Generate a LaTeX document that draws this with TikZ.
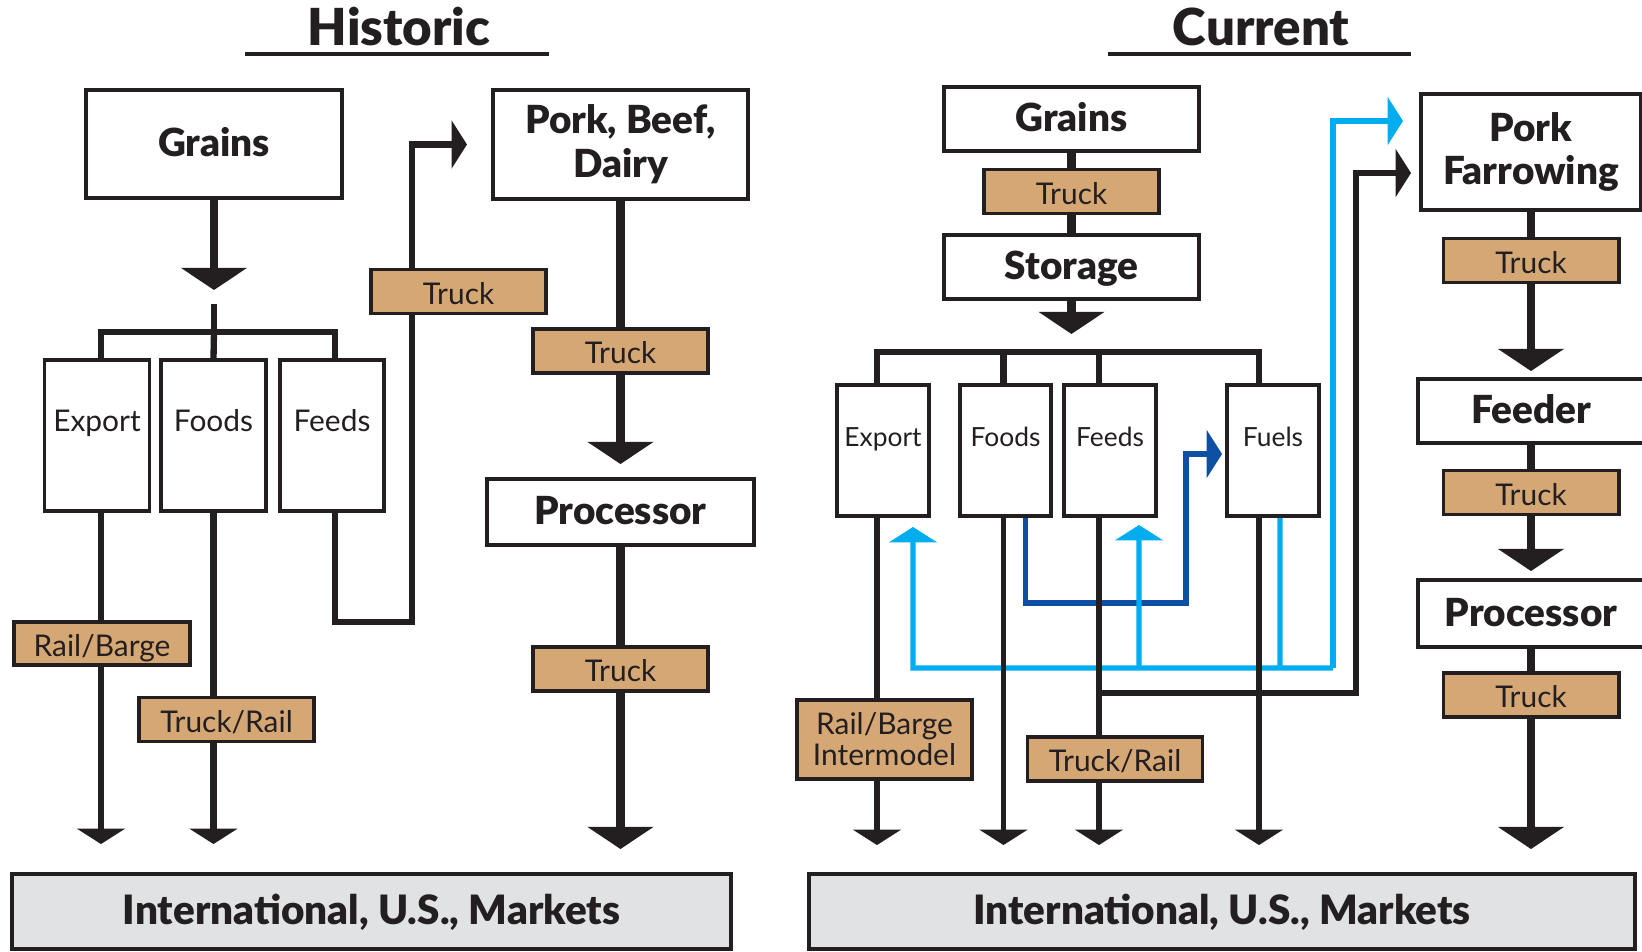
\documentclass[tikz,border=0pt]{standalone}
\usepackage{fontspec}
\setmainfont{Lato}[BoldFont={Lato Black}]
\usetikzlibrary{arrows.meta,backgrounds}

\definecolor{ink}{HTML}{231F20}
\definecolor{tanfill}{HTML}{D5A775}
\definecolor{skyline}{HTML}{00AEEF}
\definecolor{navyline}{HTML}{0D4FA3}
\definecolor{mktgray}{HTML}{E1E2E4}

\tikzset{
  box/.style={draw=ink, line width=1.1pt, fill=white, inner sep=0pt, text=ink,
    font=\bfseries\fontsize{11}{12.4}\selectfont, align=center,
    text height=0.72em, text depth=0pt},
  twoline/.style={text height={}, text depth={}},
  slot/.style={draw=ink, line width=1.1pt, fill=white, inner sep=0pt, text=ink,
    text height=0.72em, text depth=0.92em},
  mode/.style={draw=ink, line width=1.1pt, fill=tanfill, inner sep=0pt, text=ink,
    font=\fontsize{8.5}{8.8}\selectfont, align=center,
    minimum width=1.75cm, minimum height=0.44cm, text height=0.72em, text depth=0pt},
  market/.style={draw=ink, line width=1.1pt, fill=mktgray, inner sep=0pt, text=ink,
    font=\bfseries\fontsize{11.5}{13}\selectfont, minimum height=0.75cm,
    text height=0.72em, text depth=0pt},
  title/.style={text=ink, font=\bfseries\fontsize{14.5}{16}\selectfont, inner sep=0pt},
  mainflow/.style={draw=ink, line width=2.5pt},
  flow/.style={draw=ink, line width=1.8pt},
  thinflow/.style={draw=ink, line width=1.5pt},
  skyflow/.style={draw=skyline, line width=1.5pt},
  navyflow/.style={draw=navyline, line width=1.5pt},
  bigtip/.style={-{Triangle[width=18.5pt,length=6.3pt]}},
  smalltip/.style={-{Triangle[width=13.6pt,length=4.4pt]}},
}

\begin{document}
\begin{tikzpicture}[x=0.01cm, y=-0.01cm]
    \useasboundingbox (0,0) rectangle (1642,951);

    % Titles
    \node[title, anchor=base] (histT) at (399,45) {Historic};
    \draw[ink, line width=1pt] (245,54) -- (549,54);
    \node[title, anchor=base] (currT) at (1261,45) {Current};
    \draw[ink, line width=1pt] (1108,54) -- (1411,54);

    % Historic boxes
    \node[box, minimum width=2.56cm, minimum height=1.08cm] (grainsL) at (214,144) {Grains};
    \node[box, twoline, minimum width=2.55cm, minimum height=1.09cm] (meatL) at (620.5,144.5) {Pork, Beef,\\Dairy};
    \node[slot, font=\fontsize{8.5}{10}\selectfont, minimum width=1.05cm, minimum height=1.51cm] (exportL) at (97,435.5) {Export};
    \node[slot, font=\fontsize{8.5}{10}\selectfont, minimum width=1.05cm, minimum height=1.51cm] (foodsL) at (213.5,435.5) {Foods};
    \node[slot, font=\fontsize{8.5}{10}\selectfont, minimum width=1.04cm, minimum height=1.51cm] (feedsL) at (332,435.5) {Feeds};
    \node[box, minimum width=2.66cm, minimum height=0.66cm] (procL) at (620.5,512) {Processor};
    \node[mode] (truckL1) at (458.5,291.5) {Truck};
    \node[mode] (truckL2) at (620.5,351) {Truck};
    \node[mode] (truckL3) at (620.5,669) {Truck};
    \node[mode, minimum width=1.76cm, minimum height=0.43cm] (railL) at (102,643.5) {Rail/Barge};
    \node[mode] (truckrailL) at (226.5,719.5) {Truck/Rail};
    \node[market, minimum width=7.19cm] (marketL) at (371.5,911.5) {International, U.S., Markets};

    % Current boxes
    \node[box, minimum width=2.55cm, minimum height=0.64cm] (grainsR) at (1071.5,119) {Grains};
    \node[mode] (truckR1) at (1071.5,191.5) {Truck};
    \node[box, minimum width=2.55cm, minimum height=0.64cm] (storeR) at (1071.5,267) {Storage};
    \node[slot, font=\fontsize{7.5}{9}\selectfont, minimum width=0.92cm, minimum height=1.31cm] (exportR) at (883,450.5) {Export};
    \node[slot, font=\fontsize{7.5}{9}\selectfont, minimum width=0.91cm, minimum height=1.31cm] (foodsR) at (1005.5,450.5) {Foods};
    \node[slot, font=\fontsize{7.5}{9}\selectfont, minimum width=0.92cm, minimum height=1.31cm] (feedsR) at (1110,450.5) {Feeds};
    \node[slot, font=\fontsize{7.5}{9}\selectfont, minimum width=0.92cm, minimum height=1.31cm] (fuelsR) at (1273,450.5) {Fuels};
    \node[mode, twoline, minimum height=0.79cm] (railR) at (884.5,739.5) {Rail/Barge\\Intermodel};
    \node[mode] (truckrailR) at (1115,759) {Truck/Rail};
    \node[box, twoline, minimum width=2.2cm, minimum height=1.16cm] (pfarR) at (1531,152) {Pork\\Farrowing};
    \node[mode] (truckR2) at (1531,260.5) {Truck};
    \node[box, minimum width=2.26cm, minimum height=0.64cm] (feederR) at (1531,411) {Feeder};
    \node[mode] (truckR3) at (1531,492.5) {Truck};
    \node[box, minimum width=2.26cm, minimum height=0.67cm] (procR) at (1531,613.5) {Processor};
    \node[mode] (truckR4) at (1531,695) {Truck};
    \node[market, minimum width=8.26cm] (marketR) at (1222,911.5) {International, U.S., Markets};

    % Free ends
    \coordinate (tipL) at (214,290);
    \coordinate (stubL) at (214,304);
    \coordinate (hubL) at (214,332);
    \coordinate (bendL) at (412,622);
    \coordinate (tipR) at (1071.5,334);
    \coordinate (hubR) at (1060,352);
    \coordinate (navyB) at (1186,603);
    \coordinate (busW) at (913,668);
    \coordinate (busM) at (1139,668);
    \coordinate (busF) at (1280,668);
    \coordinate (busE) at (1333,668);
    \coordinate (tapW) at (1099,693);
    \coordinate (tapE) at (1356,693);

    \begin{pgfonlayer}{background}
    % Historic flows
    \draw[mainflow, bigtip] (grainsL) -- (tipL);
    \draw[flow] (stubL) -- (hubL);
    \draw[flow] ([xshift=0.4mm]exportL.north) |- (hubL) -| ([xshift=0.3mm]feedsL.north);
    \draw[flow] (hubL) -- (foodsL.north);
    \draw[flow, smalltip, shorten >=2.8mm] ([xshift=0.4mm]exportL.south) -- ([xshift=0.4mm]exportL.south |- marketL.north);
    \draw[flow, smalltip, shorten >=2.8mm] (foodsL.south) -- (foodsL.south |- marketL.north);
    \draw[flow, smalltip, shorten >=2.4mm] ([xshift=0.3mm]feedsL.south) |- (bendL) |- (meatL.west);
    \draw[mainflow] (meatL) -- (truckL2);
    \draw[mainflow, bigtip, shorten >=1.3mm] (truckL2) -- (procL);
    \draw[mainflow] (procL) -- (truckL3);
    \draw[mainflow, bigtip, shorten >=2.3mm] (truckL3) -- (procL.south |- marketL.north);

    % Current flows
    \draw[mainflow] (grainsR) -- (truckR1);
    \draw[mainflow] (truckR1) -- (storeR);
    \draw[mainflow, bigtip] (storeR) -- (tipR);
    \draw[flow] ([xshift=-0.6mm]exportR.north) |- (hubR) -| ([xshift=-1.4mm]fuelsR.north);
    \draw[flow] ([xshift=-0.2mm]foodsR.north) -- ([xshift=-0.2mm]foodsR.north |- hubR);
    \draw[flow] ([xshift=-1.1mm]feedsR.north) -- ([xshift=-1.1mm]feedsR.north |- hubR);

    % Co-product loops
    \draw[navyflow, smalltip, shorten >=0.3mm] ([xshift=2mm]foodsR.south) |- (navyB) |- ([yshift=-0.35mm]fuelsR.west);
    \draw[skyflow] ([xshift=0.7mm]fuelsR.south) -- (busF);
    \draw[skyflow, smalltip, shorten >=0.9mm] (busE) -- (busW) -- ([xshift=3mm]exportR.south);
    \draw[skyflow, smalltip, shorten >=0.7mm] (busM) -- ([xshift=2.9mm]feedsR.south);
    \draw[skyflow, smalltip, shorten >=1.6mm] (busE) |- ([yshift=3.1mm]pfarR.west);

    % Down to markets
    \draw[thinflow, smalltip, shorten >=2.7mm] ([xshift=-0.6mm]exportR.south) -- ([xshift=-0.6mm]exportR.south |- marketR.north);
    \draw[thinflow, smalltip, shorten >=2.7mm] ([xshift=-0.2mm]foodsR.south) -- ([xshift=-0.2mm]foodsR.south |- marketR.north);
    \draw[thinflow, smalltip, shorten >=2.7mm] ([xshift=-1.1mm]feedsR.south) -- ([xshift=-1.1mm]feedsR.south |- marketR.north);
    \draw[thinflow, smalltip, shorten >=2.7mm] ([xshift=-1.4mm]fuelsR.south) -- ([xshift=-1.4mm]fuelsR.south |- marketR.north);
    \draw[thinflow, smalltip, shorten >=0.8mm] (tapW) -- (tapE) |- ([yshift=-2.1mm]pfarR.west);

    % Livestock chain
    \draw[mainflow] (pfarR) -- (truckR2);
    \draw[mainflow, bigtip, shorten >=0.6mm] (truckR2) -- (feederR);
    \draw[mainflow] (feederR) -- (truckR3);
    \draw[mainflow, bigtip, shorten >=0.7mm] (truckR3) -- (procR);
    \draw[mainflow] (procR) -- (truckR4);
    \draw[mainflow, bigtip, shorten >=2.3mm] (truckR4) -- (procR.south |- marketR.north);
    \end{pgfonlayer}
\end{tikzpicture}
\end{document}
